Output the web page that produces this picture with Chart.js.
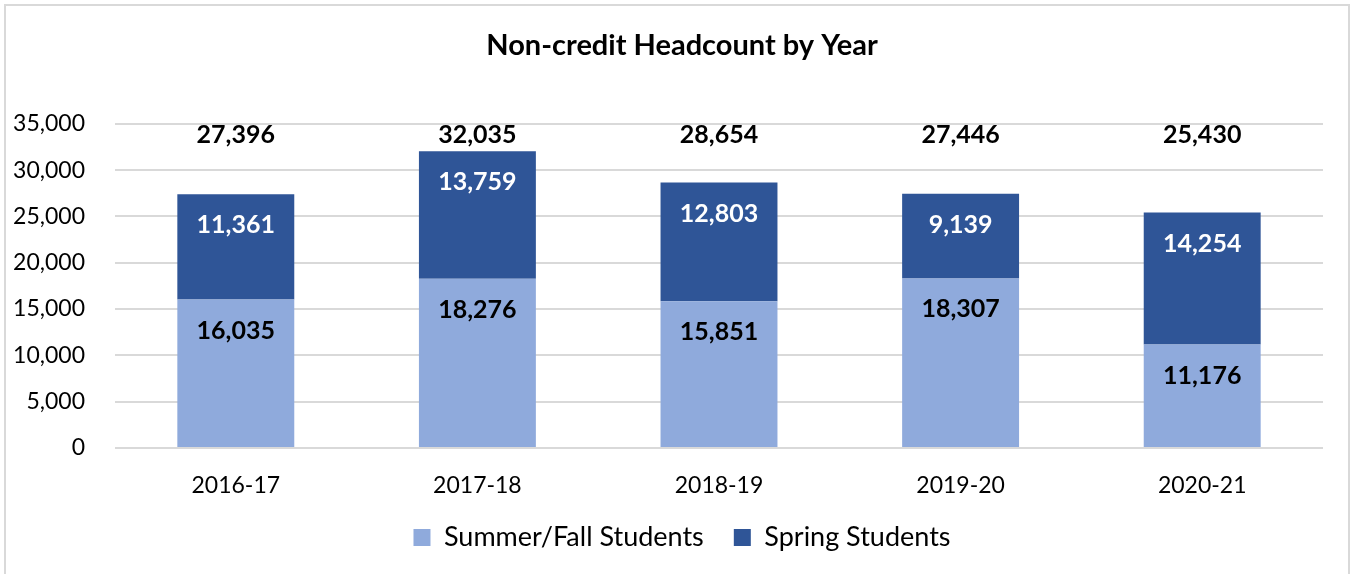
<!DOCTYPE html>
<html>
<head>
<meta charset="utf-8">
<script src="https://cdn.jsdelivr.net/npm/chart.js@4/dist/chart.umd.min.js"></script>
<style>
  html, body { margin: 0; padding: 0; background: #fff; }
  #wrap { width: 1351px; height: 574px; }
</style>
</head>
<body>
<div id="wrap"><canvas id="chart" width="1351" height="574"></canvas></div>
<script>
// chart values
var years = ['2016-17', '2017-18', '2018-19', '2019-20', '2020-21'];
var summerFall = [16035, 18276, 15851, 18307, 11176];
var spring = [11361, 13759, 12803, 9139, 14254];
var yTicks = [0, 5000, 10000, 15000, 20000, 25000, 30000, 35000];

var FONT = 'Lato, "Open Sans", sans-serif';
var fmt = function(v) { return v.toLocaleString('en-US'); };

// light frame round the whole picture, and title/legend nudged right a little
var framePlugin = {
  id: 'frame',
  afterLayout: function(chart) {
    chart.titleBlock.left += 41;
    chart.legend.left += 41;
  },
  beforeDraw: function(chart) {
    var ctx = chart.ctx;
    ctx.save();
    ctx.strokeStyle = '#d9d9d9';
    ctx.lineWidth = 2;
    ctx.strokeRect(5, 5, 1344, 590);
    ctx.restore();
  }
};

// labels inside the bars (inside end) and totals on top row
var labelPlugin = {
  id: 'barLabels',
  afterDatasetsDraw: function(chart) {
    var ctx = chart.ctx;
    ctx.save();
    ctx.font = 'bold 25px ' + FONT;
    ctx.textAlign = 'center';
    ctx.textBaseline = 'middle';
    chart.data.datasets.forEach(function(ds, i) {
      var meta = chart.getDatasetMeta(i);
      ctx.fillStyle = i === 0 ? '#000' : '#fff';
      meta.data.forEach(function(bar, j) {
        ctx.fillText(fmt(ds.data[j]), bar.x, bar.y + 31);
      });
    });
    ctx.fillStyle = '#000';
    var top = chart.chartArea.top;
    chart.getDatasetMeta(0).data.forEach(function(bar, j) {
      var total = summerFall[j] + spring[j];
      ctx.fillText(fmt(total), bar.x, top + 11);
    });
    ctx.restore();
  }
};

new Chart(document.getElementById('chart'), {
  type: 'bar',
  data: {
    labels: years,
    datasets: [
      { label: 'Summer/Fall Students', data: summerFall, backgroundColor: '#8faadc',
        categoryPercentage: 1, barPercentage: 0.484 },
      { label: 'Spring Students', data: spring, backgroundColor: '#2f5597',
        categoryPercentage: 1, barPercentage: 0.484 }
    ]
  },
  options: {
    responsive: false,
    animation: false,
    layout: { padding: { left: 0, right: 28, top: 0, bottom: 13 } },
    scales: {
      x: {
        stacked: true,
        grid: { display: false, drawTicks: false },
        border: { display: false },
        ticks: { color: '#000', font: { size: 23, family: FONT }, padding: 24 },
        afterFit: function(s) { s.height = 46; }
      },
      y: {
        stacked: true,
        min: 0, max: 35000,
        afterBuildTicks: function(s) { s.ticks = yTicks.map(function(v) { return { value: v }; }); },
        grid: { color: '#d9d9d9', lineWidth: 2, drawTicks: false },
        border: { display: false },
        ticks: { color: '#000', font: { size: 23, family: FONT }, padding: 30,
                 callback: function(v) { return fmt(v); } },
        afterFit: function(s) { s.width = 115; }
      }
    },
    plugins: {
      title: {
        display: true,
        text: 'Non-credit Headcount by Year',
        color: '#000',
        font: { size: 29, weight: 'bold', family: FONT },
        padding: { top: 28, bottom: 61 }
      },
      legend: {
        position: 'bottom',
        labels: { color: '#000', font: { size: 27, family: FONT },
                  boxWidth: 17, boxHeight: 17, padding: 30 }
      },
      tooltip: { enabled: false }
    }
  },
  plugins: [framePlugin, labelPlugin]
});
</script>
</body>
</html>
